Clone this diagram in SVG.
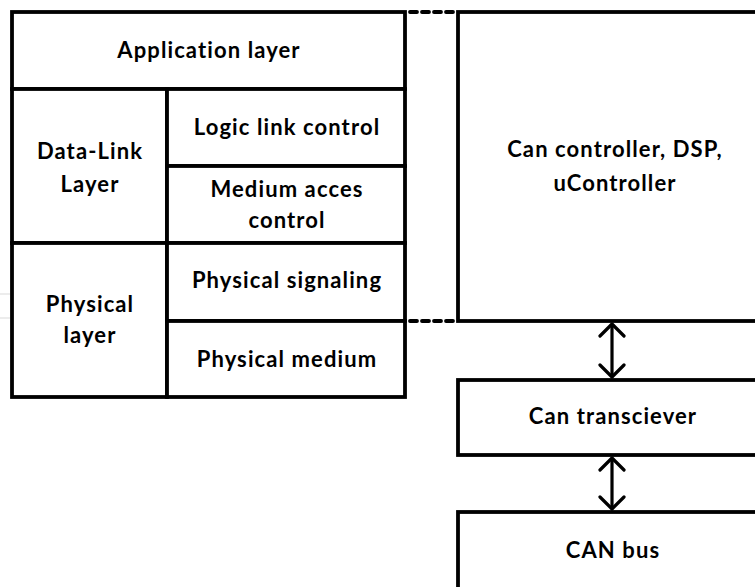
<svg xmlns="http://www.w3.org/2000/svg" width="755" height="587" viewBox="0 0 755 587">
  <style>
    .box { fill: #ffffff; stroke: #000000; stroke-width: 3.8; }
    .dash { stroke: #000000; stroke-width: 3.8; fill: none; stroke-dasharray: 7 5; stroke-linecap: round; }
    .link { stroke: #000000; stroke-width: 3.2; fill: none; }
    .lbl { font-family: Lato, "Open Sans", "Liberation Sans", sans-serif; font-weight: bold; font-size: 22px; letter-spacing: 1.1px; fill: #000000; text-anchor: middle; }
    .faint { stroke: #ececec; stroke-width: 2; }
  </style>
  <defs>
    <marker id="chev" viewBox="0 0 16 28" refX="14" refY="14" markerWidth="16" markerHeight="28" markerUnits="userSpaceOnUse" orient="auto-start-reverse">
      <path d="M2,2 L14,14 L2,26" fill="none" stroke="#000" stroke-width="3.2" stroke-linecap="round" stroke-linejoin="round"/>
    </marker>
  </defs>

  <rect width="755" height="587" fill="#ffffff"/>
  <line class="faint" x1="0" y1="294" x2="10" y2="294"/>
  <line class="faint" x1="0" y1="318" x2="10" y2="318"/>

  <!-- OSI layer stack -->
  <g id="application-layer">
    <rect class="box" x="12" y="12" width="393" height="77"/>
    <text class="lbl" x="209" y="58">Application layer</text>
  </g>
  <g id="data-link-layer">
    <rect class="box" x="12" y="89" width="155" height="154"/>
    <text class="lbl" x="90" y="159">Data-Link</text>
    <text class="lbl" x="90" y="192">Layer</text>
  </g>
  <g id="logic-link-control">
    <rect class="box" x="167" y="89" width="238" height="77"/>
    <text class="lbl" x="287" y="135">Logic link control</text>
  </g>
  <g id="medium-access-control">
    <rect class="box" x="167" y="166" width="238" height="77"/>
    <text class="lbl" x="287" y="197">Medium acces</text>
    <text class="lbl" x="287" y="228">control</text>
  </g>
  <g id="physical-layer">
    <rect class="box" x="12" y="243" width="155" height="154"/>
    <text class="lbl" x="90" y="312">Physical</text>
    <text class="lbl" x="90" y="343">layer</text>
  </g>
  <g id="physical-signaling">
    <rect class="box" x="167" y="243" width="238" height="78"/>
    <text class="lbl" x="287" y="288">Physical signaling</text>
  </g>
  <g id="physical-medium">
    <rect class="box" x="167" y="321" width="238" height="76"/>
    <text class="lbl" x="287" y="367">Physical medium</text>
  </g>

  <!-- Hardware blocks -->
  <g id="can-controller">
    <rect class="box" x="458" y="12" width="320" height="309"/>
    <text class="lbl" x="615" y="157">Can controller, DSP,</text>
    <text class="lbl" x="615" y="191">uController</text>
  </g>
  <g id="can-transceiver">
    <rect class="box" x="458" y="380" width="320" height="75"/>
    <text class="lbl" x="613" y="424">Can transciever</text>
  </g>
  <g id="can-bus">
    <rect class="box" x="458" y="512" width="320" height="100"/>
    <text class="lbl" x="613" y="558">CAN bus</text>
  </g>

  <!-- Connectors -->
  <g id="connectors">
    <line class="dash" x1="410" y1="12" x2="454" y2="12"/>
    <line class="dash" x1="410" y1="321" x2="454" y2="321"/>
    <line class="link" x1="612" y1="324" x2="612" y2="377" marker-start="url(#chev)" marker-end="url(#chev)"/>
    <line class="link" x1="612" y1="458" x2="612" y2="509" marker-start="url(#chev)" marker-end="url(#chev)"/>
  </g>
</svg>
